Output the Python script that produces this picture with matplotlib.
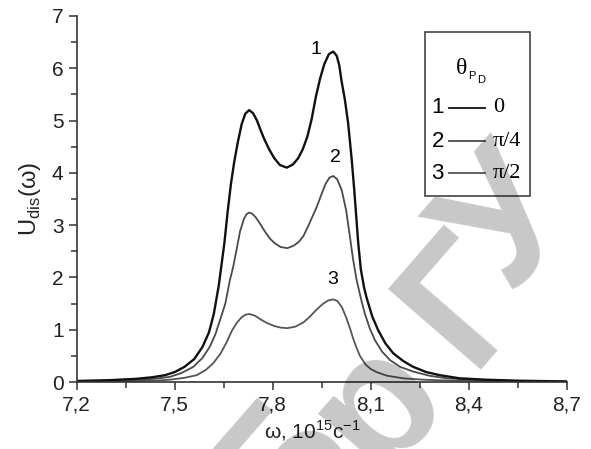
import matplotlib
matplotlib.use('Agg')
import matplotlib.pyplot as plt
import numpy as np

# curve 1 (theta = 0)
w1 = [7.20, 7.30, 7.38, 7.43, 7.47, 7.50, 7.53, 7.56, 7.585, 7.605, 7.62, 7.635,
      7.652, 7.662, 7.672, 7.682, 7.693, 7.705, 7.716, 7.728, 7.740, 7.752, 7.764,
      7.776, 7.790, 7.805, 7.822, 7.843, 7.862, 7.878, 7.892, 7.906, 7.919, 7.932,
      7.945, 7.958, 7.972, 7.9855, 7.996, 8.004, 8.011, 8.021, 8.031, 8.042, 8.050,
      8.062, 8.070, 8.080, 8.088, 8.105, 8.123, 8.145, 8.169, 8.20, 8.23, 8.27,
      8.312, 8.373, 8.45, 8.55, 8.70]
u1 = [0.02, 0.035, 0.06, 0.09, 0.13, 0.19, 0.29, 0.44, 0.67, 0.95, 1.31, 1.85,
      2.65, 3.25, 3.78, 4.20, 4.58, 4.93, 5.13, 5.20, 5.14, 5.00, 4.80,
      4.62, 4.44, 4.28, 4.15, 4.10, 4.16, 4.28, 4.45, 4.69, 5.02, 5.45,
      5.80, 6.08, 6.27, 6.32, 6.24, 6.05, 5.75, 5.40, 4.95, 4.25, 3.65,
      2.65, 2.15, 1.80, 1.60, 1.25, 0.99, 0.74, 0.55, 0.40, 0.29, 0.19,
      0.13, 0.07, 0.045, 0.025, 0.01]

# curve 2 (theta = pi/4)
w2 = [7.20, 7.30, 7.394, 7.45, 7.486, 7.52, 7.557, 7.585, 7.608, 7.625, 7.639,
      7.655, 7.669, 7.679, 7.690, 7.700, 7.712, 7.720, 7.728, 7.737, 7.748, 7.760,
      7.776, 7.792, 7.807, 7.825, 7.845, 7.865, 7.880, 7.894, 7.910, 7.935, 7.950,
      7.962, 7.974, 7.9855, 7.997, 8.011, 8.025, 8.036, 8.046, 8.057, 8.070, 8.082,
      8.097, 8.113, 8.135, 8.159, 8.19, 8.23, 8.28, 8.333, 8.42, 8.55, 8.70]
u2 = [0.015, 0.025, 0.04, 0.07, 0.10, 0.17, 0.29, 0.46, 0.68, 0.92, 1.19,
      1.50, 1.95, 2.20, 2.55, 2.88, 3.12, 3.21, 3.24, 3.22, 3.15, 3.04,
      2.88, 2.74, 2.65, 2.58, 2.56, 2.61, 2.68, 2.79, 3.00, 3.35, 3.60,
      3.79, 3.91, 3.94, 3.88, 3.68, 3.28, 2.80, 2.35, 1.95, 1.60, 1.31,
      1.03, 0.80, 0.58, 0.42, 0.29, 0.20, 0.12, 0.07, 0.04, 0.02, 0.01]

# curve 3 (theta = pi/2)
w3 = [7.20, 7.30, 7.40, 7.45, 7.486, 7.53, 7.567, 7.595, 7.618, 7.640, 7.659,
      7.675, 7.690, 7.705, 7.718, 7.728, 7.745, 7.765, 7.782, 7.805, 7.825, 7.845,
      7.870, 7.894, 7.914, 7.935, 7.955, 7.970, 7.9855, 7.998, 8.012, 8.026, 8.037,
      8.047, 8.057, 8.067, 8.085, 8.100, 8.118, 8.15, 8.20, 8.26, 8.35, 8.50, 8.70]
u3 = [0.008, 0.012, 0.02, 0.03, 0.045, 0.08, 0.13, 0.23, 0.36, 0.54, 0.76,
      0.98, 1.13, 1.24, 1.29, 1.30, 1.27, 1.19, 1.13, 1.07, 1.04, 1.03,
      1.06, 1.14, 1.25, 1.39, 1.50, 1.56, 1.58, 1.55, 1.43, 1.22, 1.02,
      0.82, 0.65, 0.50, 0.33, 0.25, 0.19, 0.12, 0.07, 0.045, 0.025, 0.012, 0.006]

curve_nums = ['1', '2', '3']
theta_labels = ['0', 'π/4', 'π/2']
xticks = [7.2, 7.5, 7.8, 8.1, 8.4, 8.7]
xtick_labels = ['7,2', '7,5', '7,8', '8,1', '8,4', '8,7']
yticks = [0, 1, 2, 3, 4, 5, 6, 7]
# watermark letters and where their centres sit (figure pixels from top-left)
wm_letters = ['Б', 'р', 'Г', 'У']
wm_centres = [(285, 470), (378, 405), (467, 302), (512, 225)]

plt.rcParams['font.family'] = ['Liberation Sans', 'DejaVu Sans']

W, H = 591, 449
fig = plt.figure(figsize=(W / 100, H / 100), dpi=100)
ax = fig.add_axes([0.1298, 0.1492, 0.829, 0.8152])

ax.plot(w3, u3, color='#555555', lw=1.3)
ax.plot(w2, u2, color='#4a4a4a', lw=1.3)
ax.plot(w1, u1, color='#111111', lw=1.7)

ax.set_xlim(7.2, 8.7)
ax.set_ylim(0, 7)
ax.set_xticks(xticks)
ax.set_xticklabels(xtick_labels)
ax.set_xticks(np.arange(7.35, 8.7, 0.3), minor=True)
ax.set_yticks(yticks)
ax.set_yticks(np.arange(0.5, 7, 1.0), minor=True)
ax.tick_params(which='both', direction='out', labelsize=15, color='#333333',
               labelcolor='#222222', width=1.1)
ax.tick_params(which='major', length=6)
ax.tick_params(which='minor', length=4)
for s in ['top', 'right']:
    ax.spines[s].set_visible(False)
for s in ['left', 'bottom']:
    ax.spines[s].set_linewidth(1.2)
    ax.spines[s].set_color('#333333')

ax.set_ylabel(r'U$_{\mathregular{dis}}$(ω)', fontsize=17, color='#222222',
              labelpad=6)
ax.set_xlabel(r'ω, 10$^{\mathregular{15}}$c$^{\mathregular{-1}}$', fontsize=15,
              color='#222222')
ax.xaxis.set_label_coords(0.48, -0.10)

# curve numbers
ax.text(7.931, 6.36, curve_nums[0], fontsize=14, ha='center', va='center')
ax.text(7.991, 4.29, curve_nums[1], fontsize=14, ha='center', va='center')
ax.text(7.985, 1.96, curve_nums[2], fontsize=14, ha='center', va='center')

# legend box drawn by hand
box = plt.Rectangle((0.711, 0.508), 0.214, 0.448, transform=ax.transAxes,
                    fill=False, edgecolor='#444444', lw=1.2)
ax.add_patch(box)
ax.text(0.786, 0.856, 'θ', transform=ax.transAxes, fontsize=17,
        ha='center', va='center', family='Liberation Serif')
ax.text(0.806, 0.836, 'P', transform=ax.transAxes, fontsize=8,
        ha='center', va='center')
ax.text(0.826, 0.826, 'D', transform=ax.transAxes, fontsize=8,
        ha='center', va='center')
cols = ['#111111', '#4a4a4a', '#555555']
rows = [0.749, 0.658, 0.571]
for i in range(3):
    yy = rows[i]
    ax.text(0.737, yy, curve_nums[i], transform=ax.transAxes, fontsize=16,
            ha='center', va='center')
    ax.plot([0.760, 0.834], [yy, yy], transform=ax.transAxes, color=cols[i],
            lw=1.3)
    ax.text(0.850, yy, theta_labels[i], transform=ax.transAxes, fontsize=16,
            ha='left', va='center', family='Liberation Serif')

# faint watermark laid over the figure
for ch, (px, py) in zip(wm_letters, wm_centres):
    fig.text(px / W, 1 - py / H, ch, fontsize=128, fontweight='bold',
             color='black', alpha=0.22, rotation=49, ha='center', va='center',
             rotation_mode='anchor', zorder=10, family='Liberation Sans')

fig.savefig('out.png', dpi=100)
